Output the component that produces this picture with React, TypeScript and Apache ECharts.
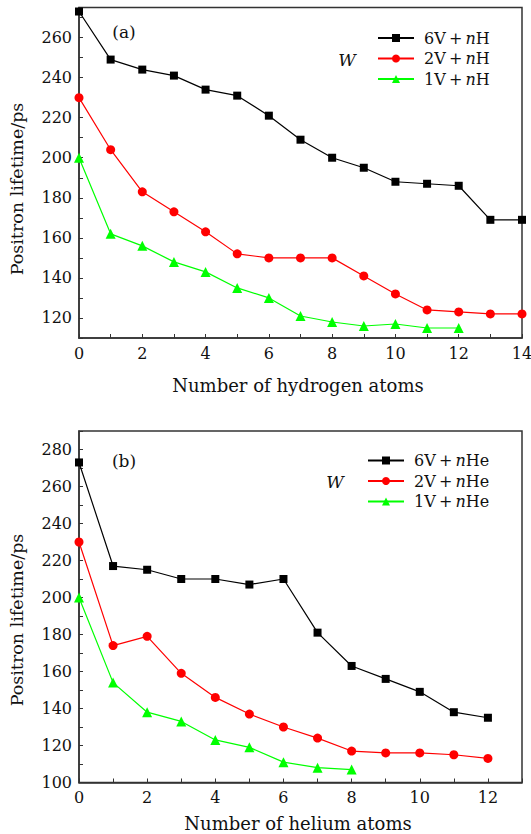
import React, { useEffect, useRef } from "react";
import * as echarts from "echarts";

const hX = [0, 1, 2, 3, 4, 5, 6, 7, 8, 9, 10, 11, 12, 13, 14];
const h6V = [273, 249, 244, 241, 234, 231, 221, 209, 200, 195, 188, 187, 186, 169, 169];
const h2V = [230, 204, 183, 173, 163, 152, 150, 150, 150, 141, 132, 124, 123, 122, 122];
const h1V = [200, 162, 156, 148, 143, 135, 130, 121, 118, 116, 117, 115, 115];

const heX = [0, 1, 2, 3, 4, 5, 6, 7, 8, 9, 10, 11, 12];
const he6V = [273, 217, 215, 210, 210, 207, 210, 181, 163, 156, 149, 138, 135];
const he2V = [230, 174, 179, 159, 146, 137, 130, 124, 117, 116, 116, 115, 113];
const he1V = [200, 154, 138, 133, 123, 119, 111, 108, 107];

const namesH = ["6V+nH", "2V+nH", "1V+nH"];
const namesHe = ["6V+nHe", "2V+nHe", "1V+nHe"];

const FONT = "DejaVu Serif";
const AX = "#333";

function pairs(xs: number[], ys: number[]) {
  return ys.map((y, i) => [xs[i], y]);
}

function legendFmt(name: string) {
  const m = name.match(/^(\dV)\+n(.+)$/);
  if (!m) return name;
  return `{r|${m[1]}\u2009+\u2009}{i|n}{r|${m[2]}}`;
}

export default function App() {
  const ref = useRef<HTMLDivElement>(null);
  useEffect(() => {
    if (!ref.current) return;
    const chart = echarts.init(ref.current, null, { renderer: "svg" });
    const grids = [
      { left: 79, right: 9, top: 7.5, height: 330.5 },
      { left: 79, right: 9, top: 431, height: 351.5 },
    ].map((g) => ({
      ...g,
      show: true,
      borderColor: AX,
      borderWidth: 1.5,
      backgroundColor: "transparent",
      outerBoundsMode: "none",
      containLabel: false,
    }));

    const labelStyle = { fontFamily: FONT, fontSize: 16, color: "#111" };
    const mkX = (gi: number, max: number) => ({
      type: "value",
      gridIndex: gi,
      min: 0,
      max,
      interval: 1,
      axisLine: { show: true, lineStyle: { color: AX, width: 1.5 } },
      axisTick: { show: true, inside: true, length: 4, lineStyle: { color: AX, width: 1 } },
      splitLine: { show: false },
      axisLabel: {
        ...labelStyle,
        margin: 7,
        formatter: (v: number) => (v % 2 === 0 && v <= (gi === 0 ? 14 : 12) ? String(v) : ""),
      },
    });
    const mkY = (gi: number, min: number, max: number) => ({
      type: "value",
      gridIndex: gi,
      min,
      max,
      interval: 10,
      axisLine: { show: true, lineStyle: { color: AX, width: 1.5 } },
      axisTick: { show: true, inside: true, length: 4, lineStyle: { color: AX, width: 1 } },
      splitLine: { show: false },
      axisLabel: {
        ...labelStyle,
        margin: 7,
        formatter: (v: number) => (v % 20 === 0 && v < max ? String(v) : ""),
      },
    });

    const mkSeries = (name: string, gi: number, data: number[][], color: string, symbol: string, size: number) => ({
      type: "line",
      name,
      xAxisIndex: gi,
      yAxisIndex: gi,
      data,
      symbol,
      symbolSize: size,
      color,
      itemStyle: { color },
      lineStyle: { color, width: 1.2 },
      clip: false,
    });

    const legendBase = {
      orient: "vertical",
      itemWidth: 36,
      itemHeight: 10,
      itemGap: 4.5,
      formatter: legendFmt,
      textStyle: {
        fontFamily: FONT,
        fontSize: 16,
        color: "#111",
        padding: [0, 0, 0, 5],
        rich: {
          r: { fontFamily: FONT, fontSize: 16, color: "#111" },
          i: { fontFamily: FONT, fontSize: 16, fontStyle: "italic", color: "#111" },
        },
      },
      padding: 0,
    };

    const txt = (text: string, x: number, y: number, extra: any = {}) => ({
      type: "text",
      x,
      y,
      ...extra,
      style: {
        text,
        fontFamily: FONT,
        fontSize: 16,
        fill: "#111",
        align: "center",
        verticalAlign: "middle",
        ...(extra.style || {}),
      },
    });

    chart.setOption({
      animation: false,
      backgroundColor: "#fff",
      grid: grids,
      xAxis: [mkX(0, 14), mkX(1, 13)],
      yAxis: [mkY(0, 110, 275), mkY(1, 100, 290)],
      legend: [
        { ...legendBase, left: 377, top: 30, data: namesH },
        { ...legendBase, left: 367, top: 452.5, data: namesHe },
      ],
      series: [
        mkSeries(namesH[0], 0, pairs(hX, h6V), "#000000", "rect", 8),
        mkSeries(namesH[1], 0, pairs(hX, h2V), "#ff0000", "circle", 9),
        mkSeries(namesH[2], 0, pairs(hX, h1V), "#00ff00", "triangle", 10),
        mkSeries(namesHe[0], 1, pairs(heX, he6V), "#000000", "rect", 8),
        mkSeries(namesHe[1], 1, pairs(heX, he2V), "#ff0000", "circle", 9),
        mkSeries(namesHe[2], 1, pairs(heX, he1V), "#00ff00", "triangle", 10),
      ],
      graphic: [
        txt("(a)", 124, 32, { style: { fontSize: 17 } }),
        txt("(b)", 124, 461, { style: { fontSize: 17 } }),
        txt("W", 347, 60, { style: { fontStyle: "italic", fontSize: 17 } }),
        txt("W", 335, 482, { style: { fontStyle: "italic", fontSize: 17 } }),
        txt("Number of hydrogen atoms", 298, 385, { style: { fontSize: 18 } }),
        txt("Number of helium atoms", 298, 823, { style: { fontSize: 18 } }),
        txt("Positron lifetime/ps", 17, 189, { rotation: Math.PI / 2, style: { fontSize: 17.5 } }),
        txt("Positron lifetime/ps", 17, 620, { rotation: Math.PI / 2, style: { fontSize: 17.5 } }),
      ],
    });
    return () => chart.dispose();
  }, []);
  return (
    <div
      ref={ref}
      style={{ position: "absolute", left: 0, top: 0, width: 531, height: 834 }}
    />
  );
}
